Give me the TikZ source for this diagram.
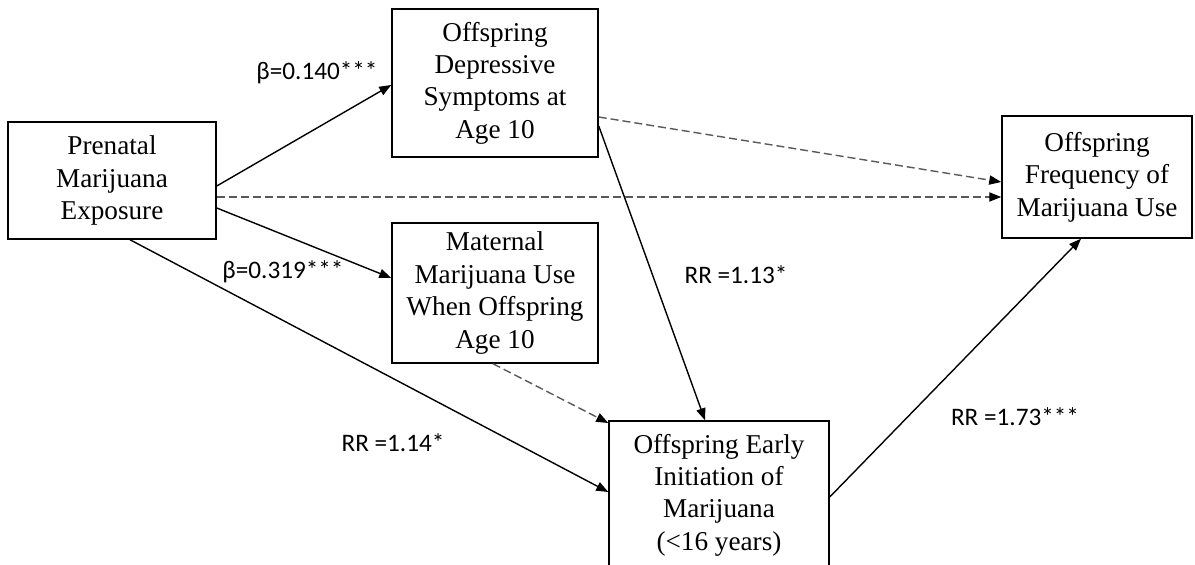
\documentclass[tikz,border=0pt]{standalone}
\usepackage{fontspec}
\setmainfont{Liberation Serif}
\newfontfamily\labelfont{Carlito}
\usetikzlibrary{arrows.meta}
\tikzset{
  varbox/.style={draw=black, line width=0.75pt, align=center, inner sep=0pt,
    font=\fontsize{13.6pt}{16.2pt}\selectfont},
  effect/.style={draw=black, line width=0.7pt,
    -{Triangle[length=6pt,width=4.6pt]}},
  nullpath/.style={draw=black!65, line width=0.7pt, dash pattern=on 4pt off 2pt,
    -{Triangle[length=6pt,width=4.6pt,fill=black,color=black]}},
  coef/.style={font=\labelfont\fontsize{12.6pt}{14pt}\selectfont, inner sep=0pt}
}
\begin{document}
\begin{tikzpicture}[x=0.5pt, y=-0.5pt]
\useasboundingbox (0,0) rectangle (1195,565);

% variables
\node[varbox, minimum width=104pt, minimum height=58.5pt] (pre) at (112,180.5)
  {Prenatal\\Marijuana\\Exposure};
\node[varbox, minimum width=103pt, minimum height=74pt] (dep) at (495,83)
  {Offspring\\Depressive\\Symptoms at\\Age 10};
\node[varbox, minimum width=103pt, minimum height=70pt] (mat) at (495,293)
  {Maternal\\Marijuana Use\\When Offspring\\Age 10};
\node[varbox, minimum width=110pt, minimum height=74pt] (early) at (719,495)
  {Offspring Early\\Initiation of\\Marijuana\\(<16 years)};
\node[varbox, minimum width=95pt, minimum height=61pt] (freq) at (1097,177)
  {Offspring\\Frequency of\\Marijuana Use};

% significant paths
\draw[effect] ([yshift=-2.75pt]pre.east) -- ([yshift=-1pt]dep.west);
\draw[effect] ([yshift=-13.75pt]pre.east) -- ([yshift=7.5pt]mat.west);
\draw[effect] ([xshift=9pt]pre.south) -- ([yshift=1.5pt]early.west);
\draw[effect] ([yshift=-21.5pt]dep.east) -- ([xshift=-7pt]early.north);
\draw[effect] ([yshift=-1pt]early.east) -- ([xshift=-8pt]freq.south);

% non-significant paths
\draw[nullpath] ([yshift=-8.25pt]pre.east) -- ([yshift=-10pt]freq.west);
\draw[nullpath] ([yshift=-17pt]dep.east) -- ([yshift=-2.5pt]freq.west);
\draw[nullpath] ([xshift=-1pt]mat.south) -- ([yshift=36pt]early.west);

% coefficients
\node[coef] (c1) at (317,73) {β=0.140***};
\node[coef] (c2) at (283,272) {β=0.319***};
\node[coef] (c3) at (736,275) {RR =1.13*};
\node[coef] (c4) at (393,443) {RR =1.14*};
\node[coef] (c5) at (1015,417) {RR =1.73***};
\end{tikzpicture}
\end{document}
